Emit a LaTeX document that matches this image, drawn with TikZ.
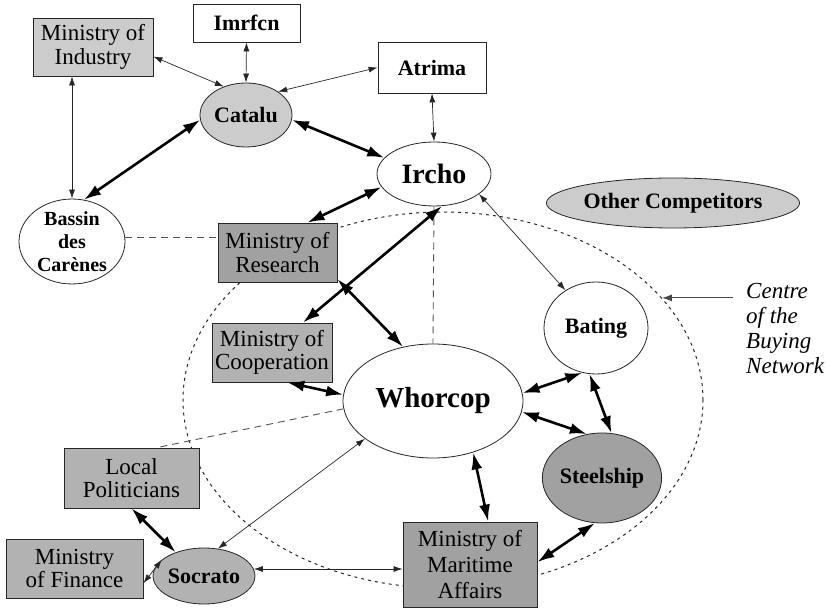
\documentclass[tikz,border=0pt]{standalone}
\usepackage{fontspec}
\setmainfont{Liberation Serif}
\usetikzlibrary{shapes.geometric,arrows.meta}
\definecolor{shadeLight}{gray}{0.80}
\definecolor{shadeMid}{gray}{0.70}
\definecolor{shadeDark}{gray}{0.63}
\definecolor{inkline}{gray}{0.15}
\begin{document}
\begin{tikzpicture}[x=1pt,y=-1pt,
  every node/.style={inner sep=0pt, align=center, font=\fontsize{23}{23.5}\selectfont},
  sized/.style 2 args={minimum width=#1, minimum height=#2},
  plainbox/.style={draw=inkline, rectangle, line width=0.8pt, fill=white},
  oval/.style={draw=inkline, ellipse, line width=0.8pt, fill=white},
  actor/.style={font=\fontsize{22}{23}\selectfont\bfseries},
  thinarr/.style={draw=inkline, line width=0.7pt, {Latex[length=9pt,width=6pt]}-{Latex[length=9pt,width=6pt]}},
  thickarr/.style={draw=black, line width=2.6pt, {Latex[length=17pt,width=11pt]}-{Latex[length=17pt,width=11pt]}},
  weaklink/.style={draw=inkline!80, line width=0.9pt, dash pattern=on 7pt off 5pt},
  boundary/.style={draw=inkline, ellipse, line width=1pt, dash pattern=on 3pt off 4pt, fill=none}
]
\useasboundingbox (0,0) rectangle (828,609);

% the dotted boundary of the buying network
\node[boundary, sized={520pt}{376pt}] (network) at (443,400) {};

% actors
\node[plainbox, fill=shadeLight, sized={120pt}{58pt}] (industry) at (93,47) {Ministry of\\Industry};
\node[plainbox, actor, sized={107pt}{38pt}] (imrfcn) at (246.5,23) {Imrfcn};
\node[plainbox, actor, sized={108pt}{51pt}] (atrima) at (432,67.5) {Atrima};
\node[oval, actor, fill=shadeLight, sized={92pt}{64pt}] (catalu) at (246,115) {Catalu};
\node[oval, font=\fontsize{28}{30}\selectfont\bfseries, sized={114pt}{64pt}] (ircho) at (434,174) {Ircho};
\node[oval, font=\fontsize{20}{23}\selectfont\bfseries, sized={106pt}{77pt}] (bassin) at (72,241.5) {Bassin\\des\\Carènes};
\node[plainbox, fill=shadeDark, sized={119pt}{59pt}] (research) at (277.5,252.5) {Ministry of\\Research};
\node[oval, actor, fill=shadeLight, sized={214pt}{50pt}] (others) at (673,203) {Other Competitors};
\node[oval, actor, sized={104pt}{92pt}] (bating) at (596,328) {Bating};
\node[oval, font=\fontsize{29}{30}\selectfont\bfseries, sized={180pt}{114pt}] (whorcop) at (433,401) {Whorcop};
\node[oval, actor, fill=shadeDark, sized={102pt}{90pt}] (steelship) at (602,478) {Steelship};
\node[plainbox, fill=shadeDark, font=\fontsize{23}{26}\selectfont, sized={134pt}{85pt}] (maritime) at (470,564.5) {Ministry of\\Maritime\\Affairs};
\node[plainbox, fill=shadeMid, sized={120pt}{59pt}] (coop) at (272,352.5) {Ministry of\\Cooperation};
\node[plainbox, fill=shadeMid, sized={135pt}{60pt}] (local) at (131.5,478) {Local\\Politicians};
\node[plainbox, fill=shadeMid, sized={137pt}{59pt}] (finance) at (74.5,568.5) {Ministry\\of Finance};
\node[oval, actor, fill=shadeMid, sized={82pt}{56pt}] (socrato) at (204,576) {Socrato};

% caption of the boundary
\node[anchor=north west, align=left, font=\fontsize{23}{25}\selectfont\itshape] (caption) at (746,283) {Centre\\of the\\Buying\\Network};
\coordinate (captionfoot) at (733,297);
\draw[draw=inkline!85, line width=1pt, -{Latex[length=10pt,width=7pt]}] (captionfoot |- network.25) -- (network.25);

% weak (dashed) links
\draw[weaklink] (bassin.4) -- (bassin.4 -| research.west);
\draw[weaklink] (ircho.south) -- (whorcop.north);
\draw[weaklink] (whorcop.185) -- (local.50);

% thin links
\draw[thinarr] (industry.-9) -- (catalu.128);
\draw[thinarr] (imrfcn.south) -- (catalu.north);
\draw[thinarr] (atrima.west) -- (catalu.36);
\draw[thinarr] (atrima.south) -- (ircho.north);
\draw[thinarr] (bassin.north |- industry.south) -- (bassin.north);
\draw[thinarr] (ircho.-24) -- (bating.129);
\draw[thinarr] (whorcop.209) -- (socrato.63);
\draw[thinarr] (socrato.8) -- (socrato.8 -| maritime.west);
\draw[thinarr] (socrato.159) -- (finance.-12);

% strong links
\draw[thickarr] (catalu.186) -- (bassin.74);
\draw[thickarr] (catalu.-6) -- (ircho.162);
\draw[thickarr] (ircho.194) -- (research.45);
\draw[thickarr] (ircho.-76) -- (coop.44);
\draw[thickarr] (research.-24) -- (whorcop.119);
\draw[thickarr] (coop.-63) -- (whorcop.176);
\draw[thickarr] (whorcop.5) -- (bating.-107);
\draw[thickarr] (whorcop.-7) -- (steelship.109);
\draw[thickarr] (bating.-98) -- (steelship.78);
\draw[thickarr] (whorcop.-52) -- (maritime.67);
\draw[thickarr] (steelship.-99) -- (maritime.2);
\draw[thickarr] (local.south) -- (socrato.140);
\end{tikzpicture}
\end{document}
